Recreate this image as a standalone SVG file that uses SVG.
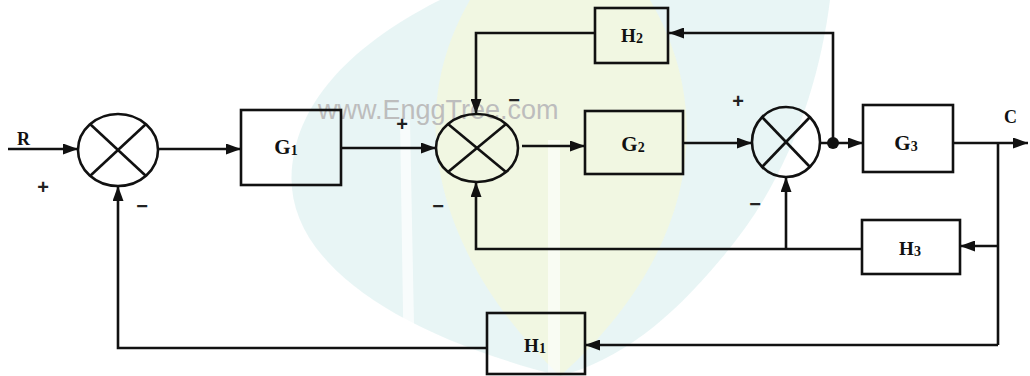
<svg xmlns="http://www.w3.org/2000/svg" width="1030" height="376" viewBox="0 0 1030 376">
<defs>
<marker id="ah" viewBox="0 0 15 11" refX="15" refY="5.5" markerWidth="15" markerHeight="11" markerUnits="userSpaceOnUse" orient="auto">
<path d="M0,0 L15,5.5 L0,11 Z" fill="#111"/>
</marker>
<style>
.ln{fill:none;stroke:#111;stroke-width:2.6;stroke-linejoin:miter}
.ar{marker-end:url(#ah)}
.box{fill:none;stroke:#111;stroke-width:2.6}
.sj{fill:none;stroke:#111;stroke-width:2.6}
.lbl{font-family:"Liberation Serif",serif;font-weight:bold;font-size:21px;fill:#111}
.hl{font-size:19px}
.sub{font-size:14px}
.sgn{font-family:"Liberation Sans",sans-serif;font-weight:bold;font-size:20px;fill:#222}
.wm{font-family:"Liberation Sans",sans-serif;font-size:27px;fill:#bdbdbd}
</style>
</defs>
<rect width="1030" height="376" fill="#ffffff"/>
<g id="watermark">
<path d="M560,376 C380,330 270,250 295,150 C310,80 380,30 440,0 L830,0 C820,80 790,180 720,260 C670,320 620,360 560,376 Z" fill="#e4f3f3" opacity="0.85"/>
<path d="M560,376 C440,260 400,120 470,0 L650,0 C720,120 690,260 560,376 Z" fill="#f2f7e0" opacity="0.9"/>
<path d="M400,120 L410,120 L415,376 L404,376 Z" fill="#ffffff" opacity="0.7"/>
<path d="M548,140 L560,140 L560,376 L548,376 Z" fill="#ffffff" opacity="0.6"/>
<text class="wm" x="318" y="119">www.EnggTree.com</text>
</g>
<g id="connectors">
<line class="ln ar" x1="8" y1="149" x2="78" y2="149"/>
<line class="ln ar" x1="158" y1="149" x2="241" y2="149"/>
<line class="ln ar" x1="341" y1="148" x2="436" y2="148"/>
<line class="ln ar" x1="522" y1="146" x2="585" y2="146"/>
<line class="ln ar" x1="683" y1="143" x2="752" y2="143"/>
<line class="ln ar" x1="820" y1="143" x2="863" y2="143"/>
<line class="ln ar" x1="953" y1="143" x2="1028" y2="143"/>
<polyline class="ln ar" points="833,143 833,33 669,33"/>
<polyline class="ln ar" points="595,33 476,33 476,114"/>
<line class="ln" x1="998" y1="143" x2="998" y2="345"/>
<line class="ln ar" x1="998" y1="246" x2="960" y2="246"/>
<line class="ln ar" x1="998" y1="345" x2="585" y2="345"/>
<polyline class="ln ar" points="862,249 476,249 476,182"/>
<line class="ln ar" x1="786" y1="249" x2="786" y2="177"/>
<polyline class="ln ar" points="487,348 118,348 118,186"/>
<circle cx="833" cy="143" r="6" fill="#111"/>
</g>
<g id="J1">
<ellipse class="sj" cx="118" cy="150" rx="40" ry="36"/>
<line class="sj" x1="90" y1="124" x2="146" y2="176"/>
<line class="sj" x1="146" y1="124" x2="90" y2="176"/>
</g>
<g id="J2">
<ellipse class="sj" cx="477" cy="148" rx="41" ry="34"/>
<line class="sj" x1="448" y1="124" x2="506" y2="172"/>
<line class="sj" x1="506" y1="124" x2="448" y2="172"/>
</g>
<g id="J3">
<ellipse class="sj" cx="786" cy="142" rx="34" ry="35"/>
<line class="sj" x1="762" y1="117" x2="810" y2="167"/>
<line class="sj" x1="810" y1="117" x2="762" y2="167"/>
</g>
<g id="G1">
<rect class="box" x="241" y="110" width="100" height="75"/>
<text class="lbl" x="286" y="154" text-anchor="middle">G<tspan class="sub" dy="1">1</tspan></text>
</g>
<g id="G2">
<rect class="box" x="585" y="111" width="98" height="63"/>
<text class="lbl" x="633" y="151" text-anchor="middle">G<tspan class="sub" dy="1">2</tspan></text>
</g>
<g id="G3">
<rect class="box" x="863" y="105" width="90" height="67"/>
<text class="lbl" x="906" y="150" text-anchor="middle">G<tspan class="sub" dy="1">3</tspan></text>
</g>
<g id="H2">
<rect class="box" x="595" y="8" width="73" height="55"/>
<text class="lbl hl" x="632" y="42" text-anchor="middle">H<tspan class="sub" dy="1">2</tspan></text>
</g>
<g id="H3">
<rect class="box" x="862" y="220" width="98" height="54"/>
<text class="lbl hl" x="910" y="255" text-anchor="middle">H<tspan class="sub" dy="1">3</tspan></text>
</g>
<g id="H1">
<rect class="box" x="487" y="313" width="98" height="61"/>
<text class="lbl hl" x="535" y="352" text-anchor="middle">H<tspan class="sub" dy="1">1</tspan></text>
</g>
<g id="labels">
<text class="lbl" x="17" y="145" style="font-size:18px">R</text>
<text class="lbl" x="1004" y="123" style="font-size:18px">C</text>
<text class="sgn" x="43" y="194" text-anchor="middle">+</text>
<text class="sgn" x="142" y="213" text-anchor="middle">−</text>
<text class="sgn" x="402" y="131" text-anchor="middle">+</text>
<text class="sgn" x="438" y="213" text-anchor="middle">−</text>
<text class="sgn" x="514" y="107" text-anchor="middle">−</text>
<text class="sgn" x="738" y="108" text-anchor="middle">+</text>
<text class="sgn" x="755" y="211" text-anchor="middle">−</text>
</g>
</svg>
